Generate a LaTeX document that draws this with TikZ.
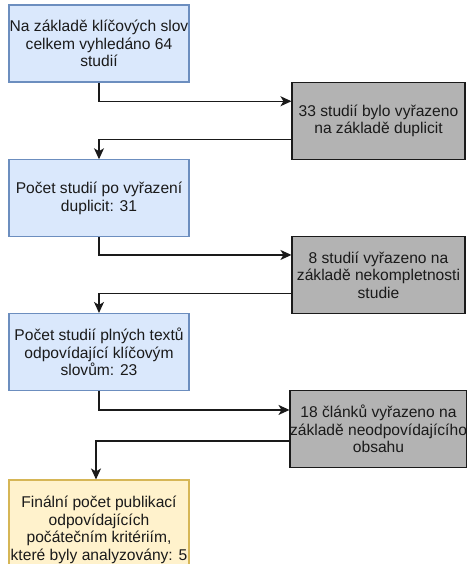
\documentclass[tikz,border=0pt]{standalone}
\usepackage{fontspec}
\setmainfont{Liberation Sans}
\usetikzlibrary{arrows.meta}
\definecolor{bluefill}{HTML}{DAE8FC}
\definecolor{blueline}{HTML}{6C8EBF}
\definecolor{yelfill}{HTML}{FFF2CC}
\definecolor{yelline}{HTML}{D6B656}
\definecolor{grayfill}{HTML}{B3B3B3}
\definecolor{ink}{HTML}{1A1A1A}
\begin{document}
\begin{tikzpicture}[x=1pt,y=-1pt,
  box/.style={rectangle, draw, line width=1.1pt, inner sep=0pt, align=center,
    font=\fontsize{15.6}{17.6}\selectfont, text=ink},
  stepbox/.style={box, fill=bluefill, draw=blueline, minimum width=180pt, minimum height=77pt},
  finalbox/.style={box, fill=yelfill, draw=yelline, minimum width=180pt, minimum height=100pt},
  exclbox/.style={box, fill=grayfill, draw=ink, minimum width=173pt, minimum height=77pt},
  flow/.style={draw=ink, line width=1.2pt, -{Stealth[length=11pt,width=10pt,inset=3pt]}}]
\useasboundingbox (0,0) rectangle (466,564);
\node[stepbox] (b1) at (99,43.5) {Na základě klíčových slov\\celkem vyhledáno 64\\studií};
\node[stepbox] (b2) at (99,198.3) {Počet studií po vyřazení\\duplicit: 31};
\node[stepbox] (b3) at (99,352) {Počet studií plných textů\\odpovídající klíčovým\\slovům: 23};
\node[finalbox] (b4) at (99,530) {Finální počet publikací\\odpovídajících\\počátečním kritériím,\\které byly analyzovány: 5};
\node[exclbox] (g1) at (378.5,120.8) {33 studií bylo vyřazeno\\na základě duplicit};
\node[exclbox] (g2) at (378.5,275) {8 studií vyřazeno na\\základě nekompletnosti\\studie};
\node[exclbox] (g3) at (378.5,429) {18 článků vyřazeno na\\základě neodpovídajícího\\obsahu};
\draw[flow] (b1.south) |- ([yshift=-19.5pt]g1.north west);
\draw[flow] ([yshift=-58pt]g1.north west) -| (b2.north);
\draw[flow] (b2.south) |- ([yshift=-19pt]g2.north west);
\draw[flow] ([yshift=-57.5pt]g2.north west) -| (b3.north);
\draw[flow] (b3.south) |- ([yshift=-20pt]g3.north west);
\draw[flow] ([yshift=-51pt]g3.north west) -| ([xshift=-3pt]b4.north);
\end{tikzpicture}
\end{document}
